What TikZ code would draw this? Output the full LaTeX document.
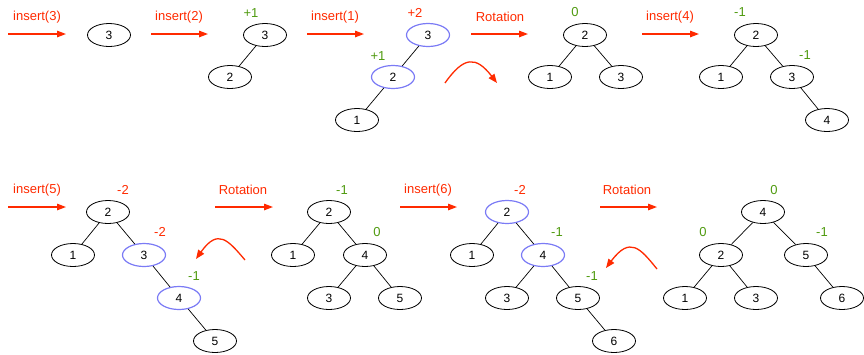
\documentclass[tikz,border=0pt]{standalone}
\usepackage{fontspec}
\setmainfont{Liberation Sans}
\usetikzlibrary{shapes.geometric,arrows.meta}
\definecolor{opred}{HTML}{FF2A00}
\definecolor{balgreen}{HTML}{4F9A0F}
\definecolor{hlblue}{HTML}{7B7BF5}
\tikzset{
  nd/.style={ellipse,draw,line width=0.8pt,minimum width=43pt,minimum height=23pt,inner sep=0pt,font=\fontsize{12}{12}\selectfont},
  hl/.style={nd,draw=hlblue,line width=1.2pt},
  edge/.style={line width=0.7pt},
  oparrow/.style={-{Triangle[length=9pt,width=6.5pt]},opred,line width=1.3pt},
  rotarrow/.style={-{Triangle[length=9pt,width=7pt]},opred,line width=1.3pt},
  oplab/.style={text=opred,inner sep=0pt,font=\fontsize{13}{13}\selectfont},
  gbal/.style={text=balgreen,inner sep=0pt,font=\fontsize{13}{13}\selectfont},
  rbal/.style={text=opred,inner sep=0pt,font=\fontsize{13}{13}\selectfont}
}
\begin{document}
\begin{tikzpicture}[x=1pt,y=-1pt]
\useasboundingbox (0,0) rectangle (864,354);
% ---------- top row ----------
% insert(3)
\coordinate (a1s) at (8,34); \coordinate (a1e) at (66,34);
\draw[oparrow] (a1s) -- (a1e);
\node[oplab] (l1) at (37,17) {insert(3)};
\node[nd] (t1n3) at (109,35) {3};
% insert(2)
\coordinate (a2s) at (151,34); \coordinate (a2e) at (208,34);
\draw[oparrow] (a2s) -- (a2e);
\node[oplab] (l2) at (179,17) {insert(2)};
\node[nd] (t2n3) at (265,35) {3};
\node[nd] (t2n2) at (230,77) {2};
\draw[edge] (t2n3) -- (t2n2);
\node[gbal] (b2a) at (251,13) {+1};
% insert(1)
\coordinate (a3s) at (307,34); \coordinate (a3e) at (364,34);
\draw[oparrow] (a3s) -- (a3e);
\node[oplab] (l3) at (335,17) {insert(1)};
\node[hl] (t3n3) at (428,35) {3};
\node[hl] (t3n2) at (393,77) {2};
\node[nd] (t3n1) at (357,120) {1};
\draw[edge] (t3n3) -- (t3n2);
\draw[edge] (t3n2) -- (t3n1);
\node[rbal] (b3a) at (415,13) {+2};
\node[gbal] (b3b) at (378,56) {+1};
\coordinate (c1s) at (445,83); \coordinate (c1e) at (497,83);
\draw[rotarrow] (c1s) .. controls (464,56) and (476,56) .. (c1e);
% Rotation
\coordinate (a4s) at (471,34); \coordinate (a4e) at (528,34);
\draw[oparrow] (a4s) -- (a4e);
\node[oplab] (l4) at (500,17) {Rotation};
\node[nd] (t4n2) at (585,35) {2};
\node[nd] (t4n1) at (550,77) {1};
\node[nd] (t4n3) at (621,77) {3};
\draw[edge] (t4n2) -- (t4n1);
\draw[edge] (t4n2) -- (t4n3);
\node[gbal] (b4a) at (575,12) {0};
% insert(4)
\coordinate (a5s) at (642,34); \coordinate (a5e) at (699,34);
\draw[oparrow] (a5s) -- (a5e);
\node[oplab] (l5) at (670,17) {insert(4)};
\node[nd] (t5n2) at (756,35) {2};
\node[nd] (t5n1) at (721,77) {1};
\node[nd] (t5n3) at (792,77) {3};
\node[nd] (t5n4) at (827,120) {4};
\draw[edge] (t5n2) -- (t5n1);
\draw[edge] (t5n2) -- (t5n3);
\draw[edge] (t5n3) -- (t5n4);
\node[gbal] (b5a) at (740,12) {-1};
\node[gbal] (b5b) at (805,55) {-1};
% ---------- bottom row ----------
% insert(5)
\coordinate (a6s) at (8,207); \coordinate (a6e) at (66,207);
\draw[oparrow] (a6s) -- (a6e);
\node[oplab] (l6) at (37,190) {insert(5)};
\node[nd] (t6n2) at (108,212) {2};
\node[nd] (t6n1) at (73,255) {1};
\node[hl] (t6n3) at (144,255) {3};
\node[hl] (t6n4) at (179,298) {4};
\node[nd] (t6n5) at (215,341) {5};
\draw[edge] (t6n2) -- (t6n1);
\draw[edge] (t6n2) -- (t6n3);
\draw[edge] (t6n3) -- (t6n4);
\draw[edge] (t6n4) -- (t6n5);
\node[rbal] (b6a) at (123,190) {-2};
\node[rbal] (b6b) at (160,232) {-2};
\node[gbal] (b6c) at (194,276) {-1};
\coordinate (c2s) at (245,260); \coordinate (c2e) at (196,259);
\draw[rotarrow] (c2s) .. controls (228,240) and (218,228) .. (c2e);
% Rotation
\coordinate (a7s) at (215,207); \coordinate (a7e) at (273,207);
\draw[oparrow] (a7s) -- (a7e);
\node[oplab] (l7) at (243,190) {Rotation};
\node[nd] (t7n2) at (329,212) {2};
\node[nd] (t7n1) at (293,255) {1};
\node[nd] (t7n4) at (365,255) {4};
\node[nd] (t7n3) at (329,298) {3};
\node[nd] (t7n5) at (400,298) {5};
\draw[edge] (t7n2) -- (t7n1);
\draw[edge] (t7n2) -- (t7n4);
\draw[edge] (t7n4) -- (t7n3);
\draw[edge] (t7n4) -- (t7n5);
\node[gbal] (b7a) at (342,190) {-1};
\node[gbal] (b7b) at (377,232) {0};
% insert(6)
\coordinate (a8s) at (400,207); \coordinate (a8e) at (457,207);
\draw[oparrow] (a8s) -- (a8e);
\node[oplab] (l8) at (428,190) {insert(6)};
\node[hl] (t8n2) at (507,212) {2};
\node[nd] (t8n1) at (472,255) {1};
\node[hl] (t8n4) at (543,255) {4};
\node[nd] (t8n3) at (507,298) {3};
\node[nd] (t8n5) at (578,298) {5};
\node[nd] (t8n6) at (614,341) {6};
\draw[edge] (t8n2) -- (t8n1);
\draw[edge] (t8n2) -- (t8n4);
\draw[edge] (t8n4) -- (t8n3);
\draw[edge] (t8n4) -- (t8n5);
\draw[edge] (t8n5) -- (t8n6);
\node[rbal] (b8a) at (520,190) {-2};
\node[gbal] (b8b) at (557,232) {-1};
\node[gbal] (b8c) at (592,276) {-1};
\coordinate (c3s) at (657,269); \coordinate (c3e) at (606,268);
\draw[rotarrow] (c3s) .. controls (640,248) and (630,236) .. (c3e);
% Rotation
\coordinate (a9s) at (600,207); \coordinate (a9e) at (657,207);
\draw[oparrow] (a9s) -- (a9e);
\node[oplab] (l9) at (627,190) {Rotation};
\node[nd] (t9n4) at (763,212) {4};
\node[nd] (t9n2) at (721,255) {2};
\node[nd] (t9n5) at (806,255) {5};
\node[nd] (t9n1) at (685,298) {1};
\node[nd] (t9n3) at (756,298) {3};
\node[nd] (t9n6) at (842,298) {6};
\draw[edge] (t9n4) -- (t9n2);
\draw[edge] (t9n4) -- (t9n5);
\draw[edge] (t9n2) -- (t9n1);
\draw[edge] (t9n2) -- (t9n3);
\draw[edge] (t9n5) -- (t9n6);
\node[gbal] (b9a) at (774,190) {0};
\node[gbal] (b9b) at (703,232) {0};
\node[gbal] (b9c) at (822,232) {-1};
\end{tikzpicture}
\end{document}
